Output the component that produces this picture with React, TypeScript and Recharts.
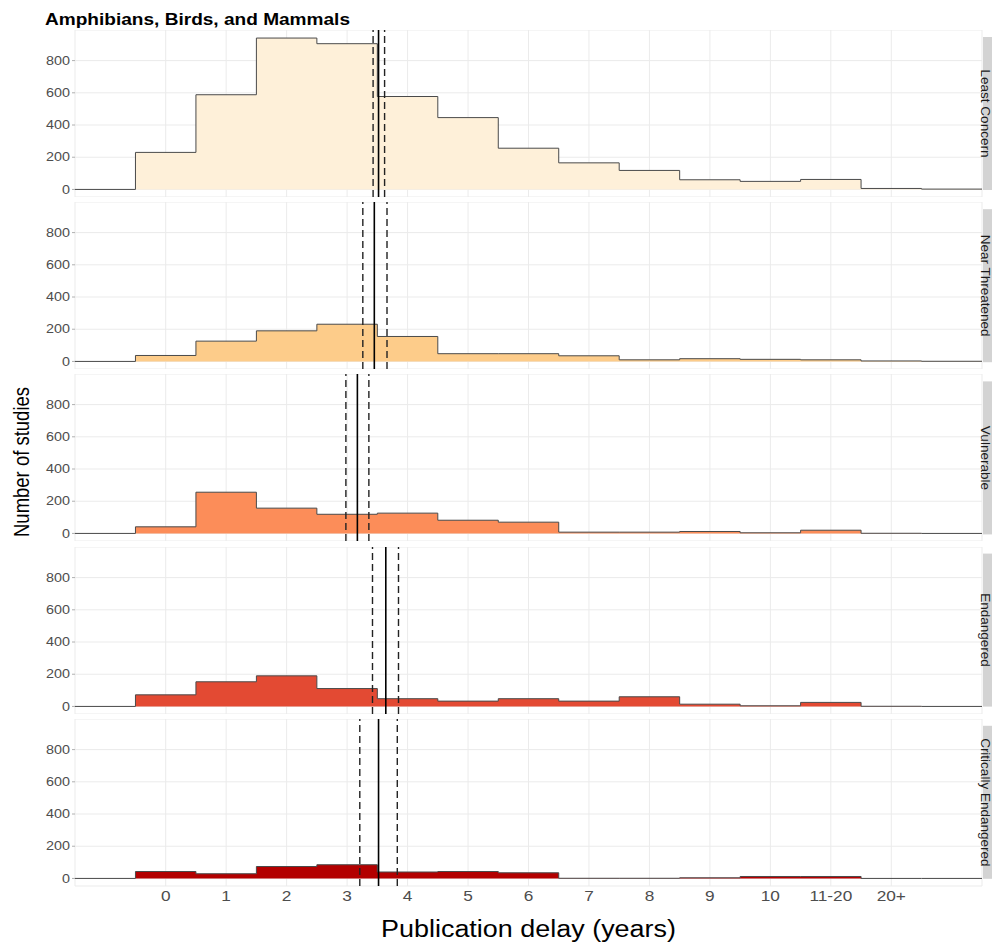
import {
  ComposedChart,
  Area,
  XAxis,
  YAxis,
  CartesianGrid,
  ReferenceLine
} from "recharts";

// delay bins shown on the x axis
const delayLabels = ["0", "1", "2", "3", "4", "5", "6", "7", "8", "9", "10", "11-20", "20+"];
const delayTicks = [0, 1, 2, 3, 4, 5, 6, 7, 8, 9, 10, 11, 12];
const countTicks = [0, 200, 400, 600, 800];

const statusNames = [
  "Least Concern",
  "Near Threatened",
  "Vulnerable",
  "Endangered",
  "Critically Endangered"
];

// number of studies per delay bin
const leastConcern = [230, 588, 940, 905, 577, 446, 256, 165, 118, 60, 50, 62, 6];
const nearThreatened = [37, 126, 190, 231, 155, 48, 48, 35, 10, 17, 13, 10, 3];
const vulnerable = [41, 256, 157, 119, 126, 82, 70, 8, 8, 12, 4, 20, 1];
const endangered = [72, 153, 190, 111, 48, 33, 48, 33, 60, 14, 4, 25, 1];
const criticallyEndangered = [43, 29, 74, 85, 40, 43, 35, 1, 1, 4, 12, 12, 0];
const tailValues = [2, 1, 0, 0, 0];

// mean delay and its confidence interval
const meanDelay = [3.52, 3.45, 3.17, 3.64, 3.52];
const lowerCI = [3.43, 3.26, 2.98, 3.42, 3.21];
const upperCI = [3.62, 3.66, 3.36, 3.85, 3.83];

const fills = ["#FEF0D9", "#FDCC8A", "#FC8D59", "#E34A33", "#B30000"];
const counts = [leastConcern, nearThreatened, vulnerable, endangered, criticallyEndangered];

const FONT = "'Liberation Sans', Arial, Helvetica, sans-serif";
const PANEL_TOP = 30;
const PANEL_STEP = 172.2;
const PANEL_H = 167;
const X_AXIS_H = 30;
const STRETCH = 1.15; // the original render is a bit wider than tall

function stepRows(values: number[], tail: number) {
  const rows = [{ x: -1.5, n: 0 }];
  values.forEach((v, i) => rows.push({ x: i - 0.5, n: v }));
  rows.push({ x: 12.5, n: tail });
  rows.push({ x: 13.5, n: tail });
  return rows;
}

function YTick(props: any) {
  const { x, y, payload } = props;
  return (
    <text
      transform={`translate(${x},${y}) scale(${STRETCH},1)`}
      textAnchor="end"
      dominantBaseline="central"
      fontSize={12.5}
      fontFamily={FONT}
      fill="#4d4d4d"
    >
      {payload.value}
    </text>
  );
}

function XTick(props: any) {
  const { x, y, payload } = props;
  return (
    <text
      transform={`translate(${x},${y}) scale(${STRETCH},1)`}
      textAnchor="middle"
      dy="0.71em"
      fontSize={15}
      fontFamily={FONT}
      fill="#4d4d4d"
    >
      {delayLabels[payload.value] ?? ""}
    </text>
  );
}

const NoTick = () => <g />;

function Panel({ index }: { index: number }) {
  const last = index === counts.length - 1;
  const data = stepRows(counts[index], tailValues[index]);
  return (
    <div style={{ position: "absolute", left: 0, top: PANEL_TOP + index * PANEL_STEP }}>
      <ComposedChart
        width={992}
        height={PANEL_H + (last ? X_AXIS_H : 0)}
        data={data}
        margin={{ top: 0, right: 10, bottom: 0, left: 0 }}
      >
        <CartesianGrid stroke="#ebebeb" strokeWidth={1} />
        <XAxis
          dataKey="x"
          type="number"
          domain={[-1.5, 13.5]}
          ticks={delayTicks}
          interval={0}
          height={last ? X_AXIS_H : 0}
          axisLine={false}
          tickLine={false}
          tickSize={0}
          tickMargin={4}
          tick={last ? <XTick /> : <NoTick />}
          allowDataOverflow
        />
        <YAxis
          type="number"
          domain={[-47, 990]}
          ticks={countTicks}
          interval={0}
          width={75}
          axisLine={false}
          tickLine={{ stroke: "#b0b0b0" }}
          tickSize={3}
          tickMargin={2}
          tick={<YTick />}
          allowDataOverflow
        />
        <Area
          type="stepAfter"
          dataKey="n"
          baseValue={0}
          fill={fills[index]}
          fillOpacity={1}
          stroke="#4a4a4a"
          strokeWidth={1}
          isAnimationActive={false}
          dot={false}
          activeDot={false}
        />
        <ReferenceLine x={lowerCI[index]} stroke="#222" strokeWidth={1.4} strokeDasharray="7 4" />
        <ReferenceLine x={upperCI[index]} stroke="#222" strokeWidth={1.4} strokeDasharray="7 4" />
        <ReferenceLine x={meanDelay[index]} stroke="#000" strokeWidth={1.6} />
      </ComposedChart>
    </div>
  );
}

export default function App() {
  return (
    <div
      style={{
        position: "absolute",
        left: 0,
        top: 0,
        width: 992,
        height: 943,
        overflow: "hidden",
        background: "#fff",
        fontFamily: FONT
      }}
    >
      {statusNames.map((_, i) => (
        <Panel key={i} index={i} />
      ))}
      <svg
        width={992}
        height={943}
        style={{ position: "absolute", left: 0, top: 0, pointerEvents: "none" }}
      >
        <text
          x={45}
          y={25}
          fontSize={17}
          fontWeight={700}
          fill="#000"
          fontFamily={FONT}
          textLength={305}
          lengthAdjust="spacingAndGlyphs"
        >
          Amphibians, Birds, and Mammals
        </text>
        <text
          transform={`translate(22,462) scale(${STRETCH},1) rotate(-90)`}
          fontSize={18.5}
          fill="#000"
          fontFamily={FONT}
          textAnchor="middle"
          dominantBaseline="central"
        >
          Number of studies
        </text>
        <text
          x={528.5}
          y={937}
          fontSize={23}
          fill="#000"
          fontFamily={FONT}
          textAnchor="middle"
          textLength={295}
          lengthAdjust="spacingAndGlyphs"
        >
          Publication delay (years)
        </text>
        {statusNames.map((name, i) => {
          const top = PANEL_TOP + i * PANEL_STEP;
          const y0 = top + 7;
          const y1 = top + 160;
          const cy = (y0 + y1) / 2;
          return (
            <g key={name}>
              <rect x={983} y={y0} width={20} height={y1 - y0} fill="#d3d3d3" />
              <text
                x={985}
                y={cy}
                fontSize={13.5}
                fill="#1a1a1a"
                fontFamily={FONT}
                textAnchor="middle"
                dominantBaseline="central"
                transform={`rotate(90 985 ${cy})`}
              >
                {name}
              </text>
            </g>
          );
        })}
      </svg>
    </div>
  );
}
